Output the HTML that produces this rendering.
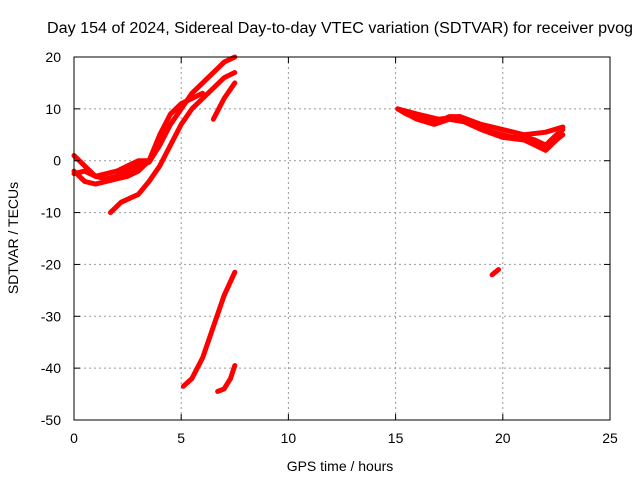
<!DOCTYPE html>
<html><head><meta charset="utf-8"><style>
body{margin:0;background:#fff}
svg{font-family:"Liberation Sans",sans-serif}
</style></head><body>
<svg id="chart" width="640" height="480">
<rect width="640" height="480" fill="#fff"/>
<g id="grid"></g><g id="series"></g><g id="axes"></g>
<text x="340" y="33" font-size="15.5" textLength="586" lengthAdjust="spacingAndGlyphs" text-anchor="middle">Day 154 of 2024, Sidereal Day-to-day VTEC variation (SDTVAR) for receiver pvog</text>
<text x="340" y="471" font-size="14" text-anchor="middle">GPS time / hours</text>
<text transform="translate(18,238) rotate(-90)" font-size="14" text-anchor="middle">SDTVAR / TECUs</text>
</svg>
<script>
const xTicks=[0,5,10,15,20,25];
const yTicks=[20,10,0,-10,-20,-30,-40,-50];
const seriesA=[[0,1],[0.5,-1],[1,-3],[1.5,-3.5],[2,-3],[2.5,-2],[3,-1],[3.5,-0.3],[4,3],[4.5,7],[5,10],[5.5,13],[6,15],[6.5,17],[7,19],[7.5,20]];
const seriesB=[[0,-2],[0.5,-4],[1,-4.5],[1.5,-4],[2,-3.5],[2.5,-3],[3,-2],[3.5,0]];
const seriesC=[[1.7,-10],[2.2,-8],[3,-6.5],[3.5,-4],[4,-1],[4.5,3],[5,7],[5.5,10],[6,12],[6.5,14],[7,16],[7.5,17]];
const seriesD=[[6.5,8],[7,12],[7.5,15]];
const seriesE=[[0,-2.5],[0.5,-2],[1,-3],[2,-2],[3,0],[3.5,0],[4,5],[4.5,9],[5,11],[5.5,12],[6,13]];
const seriesF=[[5.1,-43.5],[5.5,-42],[6,-38],[6.5,-32],[7,-26],[7.5,-21.5]];
const seriesG=[[6.7,-44.5],[7,-44],[7.3,-42],[7.5,-39.5]];
const seriesH=[[15.1,10],[15.5,9],[16,8.5],[16.5,8],[17,7.5],[17.5,8.5],[18,8.5],[18.5,7],[19,6.5],[19.5,5.5],[20,5],[20.5,4.5],[21,4.5],[21.5,4],[22,3],[22.5,5],[22.8,6]];
const seriesH2=[[15.1,10],[16,9],[17,8],[18,8.5],[19,7],[20,6],[21,5],[22,5.5],[22.8,6.5]];
const seriesH3=[[15.3,9.5],[16,8],[16.8,7],[17.5,8],[18.2,7.5],[19,6],[20,4.5],[21,4],[21.5,3],[22,2],[22.5,4],[22.8,5]];
const seriesI=[[19.5,-22],[19.8,-21]];
const allSeries=[seriesA,seriesB,seriesC,seriesD,seriesE,seriesF,seriesG,seriesH,seriesH2,seriesH3,seriesI];
const X0=74,X1=610,Y0=57,Y1=420;
function X(h){return X0+(h-0)/(25-0)*(X1-X0);}
function Y(v){return Y0+(20-v)/(20+50)*(Y1-Y0);}
const NS='http://www.w3.org/2000/svg';
function mk(t,a,p){const e=document.createElementNS(NS,t);for(const k in a)e.setAttribute(k,a[k]);p.appendChild(e);return e;}
const grid=document.getElementById('grid'),axes=document.getElementById('axes'),ser=document.getElementById('series');
xTicks.forEach(t=>{
 if(t>0&&t<25){const g=mk('line',{x1:X(t),x2:X(t),y1:Y0,y2:Y1,stroke:'#999','stroke-dasharray':'2,3'},grid);
 
 }
 mk('line',{x1:X(t),x2:X(t),y1:Y1,y2:Y1-6,stroke:'#000'},axes);
 mk('line',{x1:X(t),x2:X(t),y1:Y0,y2:Y0+6,stroke:'#000'},axes);
 const l=mk('text',{x:X(t),y:Y1+23,'font-size':14,'text-anchor':'middle'},axes);l.textContent=t;
 
 
});
yTicks.forEach(t=>{
 if(t<20&&t>-50){const g=mk('line',{x1:X0,x2:X1,y1:Y(t),y2:Y(t),stroke:'#999','stroke-dasharray':'2,3'},grid);
 
 }
 mk('line',{x1:X0,x2:X0+6,y1:Y(t),y2:Y(t),stroke:'#000'},axes);
 mk('line',{x1:X1,x2:X1-6,y1:Y(t),y2:Y(t),stroke:'#000'},axes);
 const l=mk('text',{x:X0-13,y:Y(t)+5,'font-size':14,'text-anchor':'end'},axes);l.textContent=t;
 
 
});
const fr=mk('rect',{x:X0,y:Y0,width:X1-X0,height:Y1-Y0,fill:'none',stroke:'#000'},axes);


allSeries.forEach(s=>{
 const p=mk('polyline',{points:s.map(d=>X(d[0])+','+Y(d[1])).join(' '),fill:'none',stroke:'#f00','stroke-width':5,'stroke-linejoin':'round','stroke-linecap':'round'},ser);
 
 
});
</script>
</body></html>
